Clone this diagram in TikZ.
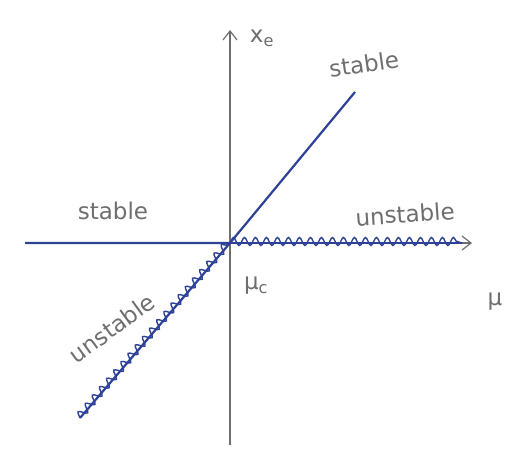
\documentclass[tikz,border=0pt]{standalone}
\usepackage{amsmath}
\usepackage{fontspec}
\setsansfont{DejaVu Sans}
\usetikzlibrary{arrows.meta, decorations.pathmorphing, positioning}
\definecolor{ink}{RGB}{45,65,150}
\definecolor{pencil}{RGB}{110,110,110}

\begin{document}
\begin{tikzpicture}[x=1pt, y=-1pt,
    axis/.style={pencil, line width=1.2pt, -{Straight Barb[length=9pt, width=14pt]}},
    branch/.style={ink, line width=2.2pt},
    wavy/.style={ink, line width=1.4pt, decorate,
        decoration={snake, amplitude=4pt, segment length=11pt, raise=1.5pt}},
    tag/.style={pencil, font=\sffamily\fontsize{23}{23}\selectfont, inner sep=1pt}]
            \useasboundingbox (0,0) rectangle (526,450);
            \begin{scope}[shift={(0,0)}]
                \coordinate (O) at (230,243);
                \coordinate (xl) at (25,243);
                \coordinate (xr) at (472,243);
                \coordinate (yb) at (230,445);
                \coordinate (yt) at (230,30);
                \coordinate (up) at (355,92);
                \coordinate (lo) at (80,418);
                \coordinate (wr) at (462,243);

                \draw[axis] (yb) -- (yt);
                \draw[axis] (xl) -- (xr);

                \draw[branch] (xl) -- (O) -- (up);
                \draw[branch] (O) -- (wr);
                \draw[branch] (O) -- (lo);
                \draw[wavy] (O) -- (wr);
                \draw[wavy] (lo) -- (O);

                \node[tag] (xe) at (262,38) {x\textsubscript{e}};
                \node[tag] (mu) at (495,302) {μ};
                \node[tag] (muc) at (256,286) {μ\textsubscript{c}};
                \node[tag, rotate=8] (stabup) at (364,64) {stable};
                \node[tag] (stableft) at (113,211) {stable};
                \node[tag, rotate=4] (unstabright) at (405,214) {unstable};
                \node[tag, rotate=36] (unstablow) at (112,328) {unstable};
            \end{scope}
        \end{tikzpicture}
\end{document}
